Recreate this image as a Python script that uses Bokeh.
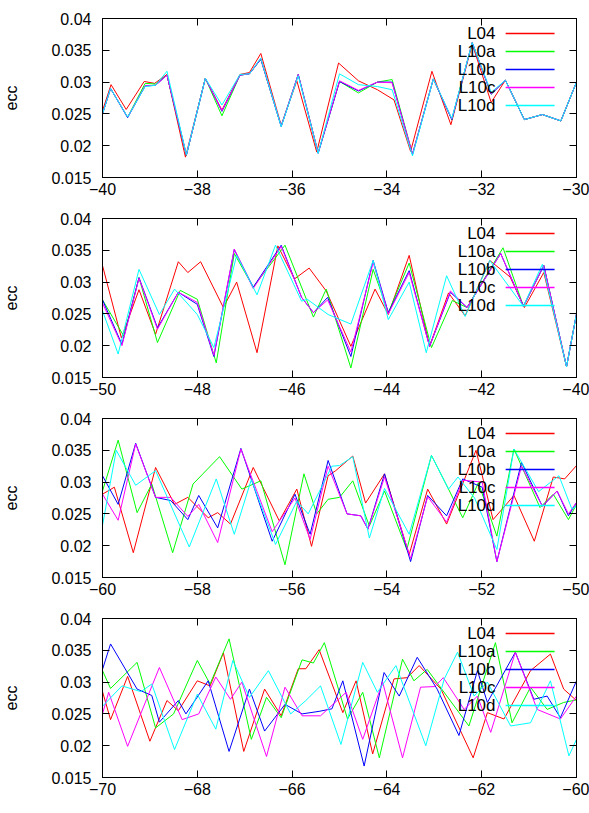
from bokeh.plotting import figure
from bokeh.layouts import column
from bokeh.models import FixedTicker, LinearAxis, Range1d, Label
from bokeh.embed import file_html
from bokeh.resources import INLINE

# ---------------- data ----------------
SERIES = ["L04", "L10a", "L10b", "L10c", "L10d"]
COLORS = ["#ff0000", "#00ff00", "#0000ff", "#ff00ff", "#00ffff"]
Y_TICKS = [0.015, 0.02, 0.025, 0.03, 0.035, 0.04]
Y_TICK_LABELS = ["0.015", "0.02", "0.025", "0.03", "0.035", "0.04"]
X_TICKS_1 = [-40, -38, -36, -34, -32, -30]
X_TICKS_2 = [-50, -48, -46, -44, -42, -40]
X_TICKS_3 = [-60, -58, -56, -54, -52, -50]
X_TICKS_4 = [-70, -68, -66, -64, -62, -60]

# panel 1 (-40 .. -30)
X1_L04 = [-40.0, -39.82, -39.5, -39.12, -38.9, -38.64, -38.25, -37.83, -37.48, -37.1, -36.9, -36.66, -36.23, -35.9, -35.48, -35.02, -34.6, -34.2, -33.85, -33.5, -33.05, -32.65, -32.2, -31.8, -31.5, -31.1, -30.72, -30.33, -30.0]
Y1_L04 = [0.0255, 0.0296, 0.0257, 0.0301, 0.0298, 0.0312, 0.0182, 0.0306, 0.0256, 0.0312, 0.0315, 0.0345, 0.0232, 0.0302, 0.0190, 0.0330, 0.0302, 0.0288, 0.0272, 0.0191, 0.0317, 0.0233, 0.0360, 0.0268, 0.0303, 0.0241, 0.0249, 0.0239, 0.0300]
X1_L10 = [-40.0, -39.83, -39.47, -39.1, -38.88, -38.64, -38.23, -37.83, -37.48, -37.1, -36.9, -36.66, -36.23, -35.87, -35.45, -35.0, -34.6, -34.2, -33.89, -33.46, -33.02, -32.63, -32.2, -31.8, -31.5, -31.1, -30.72, -30.33, -30.0]
Y1_L10a = [0.0250, 0.0290, 0.0245, 0.0298, 0.0297, 0.0311, 0.0185, 0.0306, 0.0247, 0.0311, 0.0313, 0.0336, 0.0231, 0.0312, 0.0189, 0.0301, 0.0283, 0.0300, 0.0304, 0.0187, 0.0305, 0.0241, 0.0362, 0.0281, 0.0303, 0.0241, 0.0249, 0.0239, 0.0300]
Y1_L10b = [0.0250, 0.0290, 0.0244, 0.0294, 0.0295, 0.0311, 0.0185, 0.0306, 0.0254, 0.0311, 0.0313, 0.0336, 0.0230, 0.0312, 0.0188, 0.0301, 0.0286, 0.0300, 0.0300, 0.0186, 0.0305, 0.0241, 0.0362, 0.0281, 0.0303, 0.0241, 0.0249, 0.0239, 0.0300]
Y1_L10c = [0.0250, 0.0290, 0.0245, 0.0294, 0.0295, 0.0311, 0.0186, 0.0306, 0.0255, 0.0311, 0.0313, 0.0337, 0.0231, 0.0312, 0.0189, 0.0302, 0.0287, 0.0300, 0.0299, 0.0187, 0.0305, 0.0242, 0.0362, 0.0282, 0.0303, 0.0241, 0.0249, 0.0239, 0.0300]
Y1_L10d = [0.0250, 0.0290, 0.0245, 0.0293, 0.0295, 0.0317, 0.0186, 0.0306, 0.0264, 0.0312, 0.0313, 0.0338, 0.0230, 0.0310, 0.0188, 0.0313, 0.0296, 0.0293, 0.0288, 0.0184, 0.0305, 0.0243, 0.0362, 0.0284, 0.0303, 0.0241, 0.0249, 0.0239, 0.0300]

# panel 2 (-50 .. -40)
X2_L04 = [-50.0, -49.6, -49.23, -48.88, -48.4, -48.2, -47.93, -47.45, -47.17, -46.74, -46.3, -45.95, -45.64, -45.28, -44.76, -44.25, -43.97, -43.53, -43.1, -42.7, -42.35, -41.83, -41.4, -41.1, -40.69, -40.21, -40.0]
Y2_L04 = [0.0326, 0.0212, 0.0288, 0.0218, 0.0332, 0.0315, 0.0332, 0.0260, 0.0300, 0.0189, 0.0357, 0.0305, 0.0322, 0.0286, 0.0199, 0.0289, 0.0249, 0.0342, 0.0199, 0.0283, 0.0247, 0.0334, 0.0308, 0.0260, 0.0315, 0.0167, 0.0250]
X2_L10a = [-50.0, -49.55, -49.23, -48.84, -48.36, -48.0, -47.6, -47.22, -46.82, -46.15, -45.55, -45.28, -44.76, -44.29, -43.97, -43.53, -43.06, -42.62, -42.31, -41.55, -41.12, -40.69, -40.21, -40.0]
Y2_L10a = [0.0272, 0.0215, 0.0307, 0.0205, 0.0287, 0.0273, 0.0173, 0.0345, 0.0292, 0.0358, 0.0245, 0.0289, 0.0165, 0.0320, 0.0252, 0.0330, 0.0197, 0.0271, 0.0260, 0.0354, 0.0262, 0.0326, 0.0167, 0.0250]
X2_L10bc = [-50.0, -49.59, -49.23, -48.84, -48.4, -48.0, -47.65, -47.22, -46.82, -46.23, -45.8, -45.55, -45.25, -44.76, -44.29, -43.97, -43.53, -43.1, -42.66, -42.31, -41.6, -41.12, -40.69, -40.21, -40.0]
Y2_L10b = [0.0272, 0.0202, 0.0307, 0.0228, 0.0284, 0.0265, 0.0183, 0.0351, 0.0292, 0.0358, 0.0276, 0.0252, 0.0276, 0.0183, 0.0334, 0.0252, 0.0318, 0.0199, 0.0284, 0.0260, 0.0345, 0.0262, 0.0326, 0.0167, 0.0250]
Y2_L10c = [0.0267, 0.0200, 0.0306, 0.0226, 0.0284, 0.0268, 0.0185, 0.0352, 0.0290, 0.0356, 0.0276, 0.0252, 0.0272, 0.0190, 0.0331, 0.0250, 0.0315, 0.0199, 0.0286, 0.0260, 0.0345, 0.0262, 0.0326, 0.0167, 0.0250]
X2_L10d = [-50.0, -49.67, -49.23, -48.8, -48.48, -48.0, -47.65, -47.17, -46.74, -46.35, -45.8, -45.68, -45.24, -44.76, -44.29, -43.97, -43.53, -43.17, -42.74, -42.35, -41.83, -41.12, -40.72, -40.21, -40.0]
Y2_L10d = [0.0255, 0.0187, 0.0320, 0.0249, 0.0289, 0.0249, 0.0197, 0.0342, 0.0280, 0.0358, 0.0270, 0.0273, 0.0249, 0.0234, 0.0334, 0.0241, 0.0300, 0.0189, 0.0310, 0.0246, 0.0334, 0.0262, 0.0328, 0.0167, 0.0250]

# panel 3 (-60 .. -50)
X3_L04 = [-60.0, -59.75, -59.35, -58.88, -58.48, -58.2, -57.77, -57.57, -57.3, -56.82, -56.27, -55.9, -55.59, -55.24, -55.08, -54.72, -54.45, -54.05, -53.53, -53.14, -52.74, -52.12, -51.76, -51.32, -50.89, -50.49, -50.25, -50.0]
Y3_L04 = [0.0281, 0.0292, 0.0189, 0.0323, 0.0265, 0.0276, 0.0244, 0.0252, 0.0234, 0.0323, 0.0239, 0.0289, 0.0199, 0.0310, 0.0318, 0.0341, 0.0267, 0.0313, 0.0186, 0.0289, 0.0234, 0.0350, 0.0241, 0.0279, 0.0207, 0.0308, 0.0305, 0.0326]
X3_L10a = [-60.0, -59.67, -59.27, -58.96, -58.52, -58.09, -57.53, -57.06, -56.66, -56.15, -55.75, -55.48, -55.24, -55.0, -54.72, -54.37, -54.05, -53.58, -53.06, -52.7, -52.4, -52.07, -51.68, -51.32, -50.77, -50.49, -50.17, -50.0]
Y3_L10a = [0.0286, 0.0366, 0.0252, 0.0297, 0.0189, 0.0297, 0.0340, 0.0289, 0.0302, 0.0170, 0.0313, 0.0250, 0.0273, 0.0276, 0.0302, 0.0231, 0.0286, 0.0194, 0.0342, 0.0289, 0.0244, 0.0299, 0.0215, 0.0352, 0.0260, 0.0281, 0.0241, 0.0265]
X3_L10bc = [-60.0, -59.67, -59.3, -58.88, -58.56, -58.2, -57.97, -57.57, -57.08, -56.42, -55.94, -55.62, -55.24, -54.84, -54.55, -54.4, -54.05, -53.5, -53.14, -52.74, -52.4, -51.99, -51.68, -51.16, -50.72, -50.41, -50.17, -50.0]
Y3_L10b = [0.0310, 0.0265, 0.0361, 0.0276, 0.0271, 0.0241, 0.0279, 0.0228, 0.0353, 0.0207, 0.0281, 0.0218, 0.0334, 0.0250, 0.0247, 0.0226, 0.0313, 0.0175, 0.0279, 0.0247, 0.0305, 0.0292, 0.0175, 0.0331, 0.0262, 0.0286, 0.0247, 0.0268]
Y3_L10c = [0.0281, 0.0240, 0.0360, 0.0276, 0.0276, 0.0246, 0.0265, 0.0205, 0.0352, 0.0222, 0.0275, 0.0210, 0.0325, 0.0250, 0.0247, 0.0226, 0.0308, 0.0180, 0.0277, 0.0237, 0.0303, 0.0300, 0.0175, 0.0325, 0.0262, 0.0286, 0.0250, 0.0268]
X3_L10d = [-60.0, -59.71, -59.3, -58.88, -58.17, -57.6, -57.22, -56.86, -56.35, -55.9, -55.66, -55.16, -55.0, -54.72, -54.37, -54.05, -53.53, -53.06, -52.7, -52.5, -52.15, -51.68, -51.32, -50.8, -50.37, -50.1, -50.0]
Y3_L10d = [0.0232, 0.0350, 0.0295, 0.0318, 0.0198, 0.0305, 0.0218, 0.0304, 0.0202, 0.0270, 0.0250, 0.0325, 0.0326, 0.0340, 0.0212, 0.0290, 0.0218, 0.0342, 0.0289, 0.0308, 0.0275, 0.0194, 0.0352, 0.0285, 0.0310, 0.0258, 0.0262]

# panel 4 (-70 .. -60)
X4_L04 = [-70.0, -69.83, -69.47, -69.0, -68.64, -68.4, -68.0, -67.73, -67.45, -67.02, -66.58, -66.23, -65.87, -65.71, -65.43, -64.93, -64.65, -64.3, -63.85, -63.57, -63.32, -62.86, -62.18, -61.88, -61.53, -60.97, -60.55, -60.27, -60.0]
Y4_L04 = [0.0285, 0.0241, 0.0309, 0.0207, 0.0271, 0.0255, 0.0302, 0.0294, 0.0346, 0.0191, 0.0289, 0.0247, 0.0321, 0.0321, 0.0351, 0.0252, 0.0302, 0.0187, 0.0305, 0.0307, 0.0326, 0.0289, 0.0181, 0.0252, 0.0242, 0.0318, 0.0344, 0.0289, 0.0271]
X4_L10a = [-70.0, -69.83, -69.27, -68.88, -68.5, -68.0, -67.73, -67.33, -66.86, -66.54, -66.23, -65.79, -65.55, -65.32, -64.83, -64.51, -64.16, -63.67, -63.43, -63.15, -62.27, -61.71, -61.36, -60.97, -60.62, -60.27, -60.0]
Y4_L10a = [0.0318, 0.0290, 0.0331, 0.0228, 0.0250, 0.0334, 0.0297, 0.0368, 0.0210, 0.0276, 0.0244, 0.0335, 0.0330, 0.0362, 0.0242, 0.0284, 0.0181, 0.0336, 0.0302, 0.0320, 0.0231, 0.0362, 0.0236, 0.0292, 0.0257, 0.0268, 0.0272]
X4_L10b = [-70.0, -69.83, -69.27, -68.96, -68.8, -68.4, -68.24, -67.77, -67.33, -66.9, -66.58, -66.15, -65.79, -65.43, -65.16, -64.93, -64.48, -64.06, -63.74, -63.36, -62.94, -62.48, -62.09, -61.88, -61.29, -60.9, -60.62, -60.34, -60.0]
Y4_L10b = [0.0320, 0.0360, 0.0289, 0.0279, 0.0237, 0.0271, 0.0250, 0.0302, 0.0191, 0.0289, 0.0223, 0.0265, 0.0250, 0.0254, 0.0258, 0.0302, 0.0168, 0.0315, 0.0278, 0.0339, 0.0289, 0.0216, 0.0318, 0.0268, 0.0347, 0.0273, 0.0278, 0.0244, 0.0302]
X4_L10c = [-70.0, -69.87, -69.47, -68.8, -68.32, -67.97, -67.61, -67.3, -67.06, -66.54, -66.15, -65.79, -65.4, -64.86, -64.51, -64.09, -63.67, -63.29, -62.99, -62.81, -62.37, -62.09, -61.81, -61.29, -60.83, -60.34, -60.0]
Y4_L10c = [0.0250, 0.0284, 0.0199, 0.0323, 0.0241, 0.0250, 0.0308, 0.0273, 0.0300, 0.0183, 0.0292, 0.0247, 0.0247, 0.0284, 0.0210, 0.0300, 0.0181, 0.0292, 0.0293, 0.0307, 0.0257, 0.0278, 0.0221, 0.0347, 0.0257, 0.0242, 0.0278]
X4_L10d = [-70.0, -69.59, -69.19, -68.96, -68.48, -68.0, -67.61, -67.25, -66.9, -66.5, -66.03, -65.71, -65.4, -64.97, -64.51, -64.2, -63.81, -63.18, -62.79, -62.51, -62.16, -61.88, -61.39, -60.97, -60.55, -60.16, -60.0]
Y4_L10d = [0.0262, 0.0294, 0.0285, 0.0297, 0.0194, 0.0281, 0.0226, 0.0334, 0.0276, 0.0318, 0.0250, 0.0271, 0.0294, 0.0202, 0.0331, 0.0284, 0.0326, 0.0200, 0.0305, 0.0347, 0.0278, 0.0300, 0.0231, 0.0236, 0.0302, 0.0184, 0.0210]

PANELS = [
    (X_TICKS_1, [(X1_L04, Y1_L04), (X1_L10, Y1_L10a), (X1_L10, Y1_L10b), (X1_L10, Y1_L10c), (X1_L10, Y1_L10d)]),
    (X_TICKS_2, [(X2_L04, Y2_L04), (X2_L10a, Y2_L10a), (X2_L10bc, Y2_L10b), (X2_L10bc, Y2_L10c), (X2_L10d, Y2_L10d)]),
    (X_TICKS_3, [(X3_L04, Y3_L04), (X3_L10a, Y3_L10a), (X3_L10bc, Y3_L10b), (X3_L10bc, Y3_L10c), (X3_L10d, Y3_L10d)]),
    (X_TICKS_4, [(X4_L04, Y4_L04), (X4_L10a, Y4_L10a), (X4_L10b, Y4_L10b), (X4_L10c, Y4_L10c), (X4_L10d, Y4_L10d)]),
]

FONT = "Liberation Sans"
TICK_FS = "16px"
FRAME_W = 475
FRAME_H = 159


def style_axis(ax, ticks, show_labels):
    ax.ticker = FixedTicker(ticks=ticks)
    ax.major_tick_in = 7
    ax.major_tick_out = 0
    ax.minor_tick_in = 0
    ax.minor_tick_out = 0
    ax.axis_line_color = "black"
    ax.major_tick_line_color = "black"
    ax.major_label_text_font = FONT
    ax.major_label_text_color = "black"
    if show_labels:
        ax.major_label_text_font_size = TICK_FS
    else:
        ax.major_label_overrides = {t: "" for t in ticks}
        ax.major_label_text_font_size = "0px"
        ax.major_label_standoff = 0


figs = []
for xt, series in PANELS:
    x0, x1 = xt[0], xt[-1]
    y0, y1 = Y_TICKS[0], Y_TICKS[-1]
    p = figure(width=589, height=200,
               x_range=Range1d(x0, x1), y_range=Range1d(y0, y1),
               output_backend="svg", toolbar_location=None,
               min_border_left=101, min_border_right=13,
               min_border_top=18, min_border_bottom=23)
    p.grid.visible = False
    p.outline_line_color = "black"
    p.background_fill_color = "white"
    p.border_fill_color = "white"

    style_axis(p.xaxis[0], xt, True)
    p.xaxis[0].major_label_standoff = 5
    style_axis(p.yaxis[0], Y_TICKS, True)
    p.yaxis[0].major_label_standoff = 11
    p.yaxis[0].major_label_overrides = {t: s for t, s in zip(Y_TICKS, Y_TICK_LABELS)}
    p.yaxis[0].axis_label = "ecc"
    p.yaxis[0].axis_label_text_font = FONT
    p.yaxis[0].axis_label_text_font_style = "normal"
    p.yaxis[0].axis_label_text_font_size = "16px"
    p.yaxis[0].axis_label_text_color = "black"
    p.yaxis[0].axis_label_standoff = 28

    top = LinearAxis()
    style_axis(top, xt, False)
    p.add_layout(top, "above")
    right = LinearAxis()
    style_axis(right, Y_TICKS, False)
    p.add_layout(right, "right")

    for (xs, ys), name, col in zip(series, SERIES, COLORS):
        p.line(xs, ys, line_color=col, line_width=1)

    # gnuplot-style key: right-aligned text followed by a line sample
    sx0 = x0 + (x1 - x0) * 404 / FRAME_W
    sx1 = x0 + (x1 - x0) * 453 / FRAME_W
    for i, (name, col) in enumerate(zip(SERIES, COLORS)):
        ys = FRAME_H - (15 + 18 * i)
        p.add_layout(Label(x=393, y=ys, x_units="screen", y_units="screen", text=name,
                           text_align="right", text_baseline="middle",
                           text_font=FONT, text_font_size="17px", text_color="black"))
        yd = y0 + (y1 - y0) * ys / FRAME_H
        p.segment(x0=[sx0], y0=[yd], x1=[sx1], y1=[yd], line_color=col, line_width=1.5)
    figs.append(p)

layout = column(*figs, spacing=0)
open("out.html", "w").write(file_html(layout, INLINE))
